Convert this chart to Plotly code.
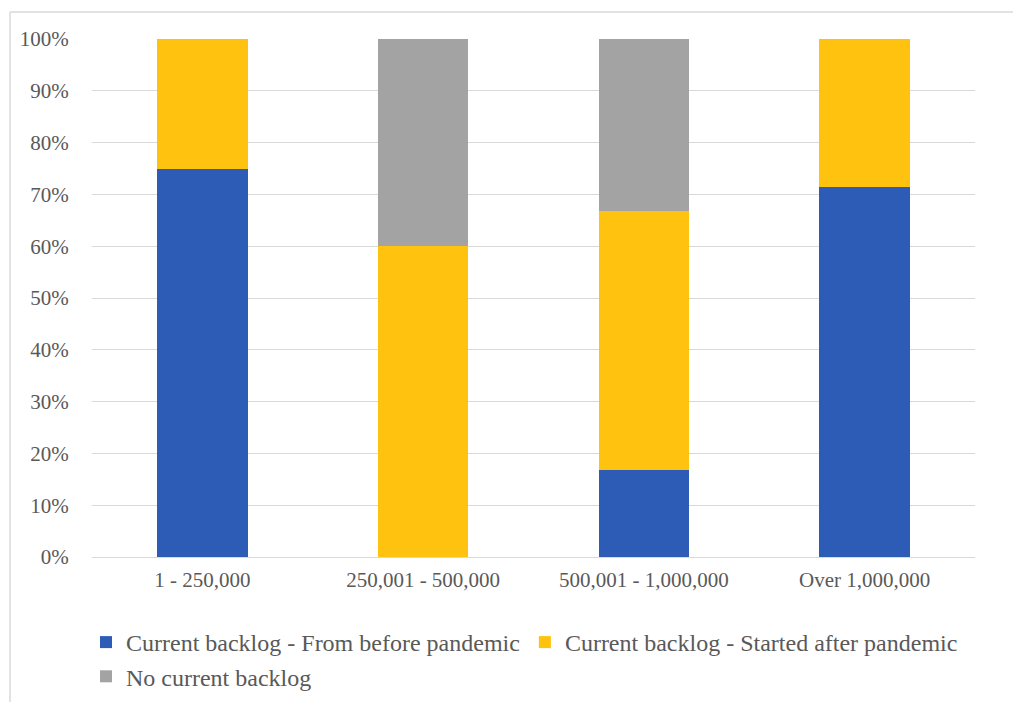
import plotly.graph_objects as go

# Backlog status by size band (share of respondents, %)
categories = ["1 - 250,000", "250,001 - 500,000", "500,001 - 1,000,000", "Over 1,000,000"]
before_pandemic = [75.0, 0.0, 16.7, 71.4]
after_pandemic = [25.0, 60.0, 50.0, 28.6]
no_backlog = [0.0, 40.0, 33.3, 0.0]

series_names = [
    "Current backlog - From before pandemic",
    "Current backlog - Started after pandemic",
    "No current backlog",
]
series_values = [before_pandemic, after_pandemic, no_backlog]
series_colors = ["#2D5CB6", "#FFC20E", "#A3A3A3"]

y_ticks = [0, 10, 20, 30, 40, 50, 60, 70, 80, 90, 100]
y_tick_labels = [f"{t}%" for t in y_ticks]

font_family = "Liberation Serif"
text_color = "#595959"

fig = go.Figure()
for name, vals, col in zip(series_names, series_values, series_colors):
    fig.add_trace(go.Bar(
        x=categories,
        y=vals,
        name=name,
        marker=dict(color=col, line=dict(width=0)),
    ))

W, H = 1013, 702
ml, mr, mt, mb = 92, 38, 39, 145
pw, ph = W - ml - mr, H - mt - mb

def px_x(p):
    return (p - ml) / pw

def px_y(p):
    return (H - mb - p) / ph

fig.update_layout(
    width=W,
    height=H,
    margin=dict(l=ml, r=mr, t=mt, b=mb, autoexpand=False),
    barmode="stack",
    bargap=0.59,
    paper_bgcolor="white",
    plot_bgcolor="white",
    font=dict(family=font_family, color=text_color, size=21),
    xaxis=dict(
        showgrid=False,
        showline=True,
        linecolor="#D9D9D9",
        linewidth=1,
        ticks="outside",
        ticklen=4,
        tickcolor="rgba(0,0,0,0)",
        tickfont=dict(size=21, color=text_color, family=font_family),
    ),
    yaxis=dict(
        range=[0, 100],
        tickvals=y_ticks,
        ticktext=y_tick_labels,
        showgrid=True,
        gridcolor="#D9D9D9",
        gridwidth=1,
        zeroline=False,
        ticks="outside",
        ticklen=18,
        tickcolor="rgba(0,0,0,0)",
        tickfont=dict(size=21, color=text_color, family=font_family),
    ),
    legend=dict(
        orientation="h",
        traceorder="normal",
        xref="container",
        yref="container",
        x=86 / W,
        xanchor="left",
        y=1 - 620 / H,
        yanchor="top",
        font=dict(size=24, color=text_color, family=font_family),
        itemwidth=30,
        bgcolor="rgba(0,0,0,0)",
    ),
    shapes=[
        # chart frame: top and left edges
        dict(type="line", xref="paper", yref="paper",
             x0=px_x(10), x1=px_x(W + 5), y0=px_y(12), y1=px_y(12),
             line=dict(color="#D9D9D9", width=1.5)),
        dict(type="line", xref="paper", yref="paper",
             x0=px_x(10), x1=px_x(10), y0=px_y(12), y1=px_y(H + 5),
             line=dict(color="#D9D9D9", width=1.5)),
    ],
)

fig.write_html("out.html")
